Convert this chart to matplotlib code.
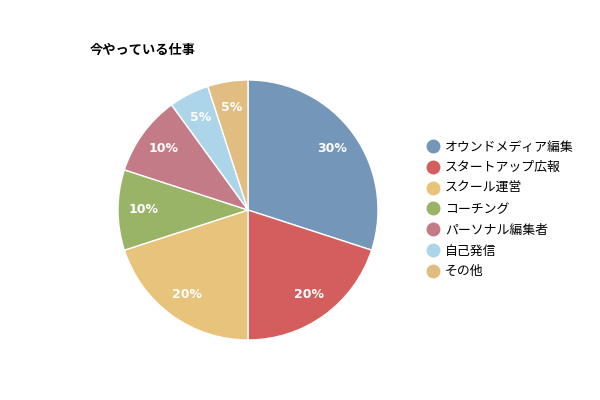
import matplotlib.pyplot as plt
from matplotlib.lines import Line2D

plt.rcParams['font.family'] = ['Noto Sans CJK JP', 'DejaVu Sans']

title = '今やっている仕事'
labels = ['オウンドメディア編集', 'スタートアップ広報', 'スクール運営', 'コーチング',
          'パーソナル編集者', '自己発信', 'その他']
values = [30, 20, 20, 10, 10, 5, 5]
colors = ['#7396b9', '#d45e5e', '#e7c37c', '#99b367', '#c47b88', '#acd5ea', '#e2bd82']

fig = plt.figure(figsize=(6, 4), dpi=100)
ax = fig.add_axes([118 / 600, 60 / 400, 260 / 600, 260 / 400])
wedges, texts, autotexts = ax.pie(
    values, colors=colors, startangle=90, counterclock=False,
    autopct='%d%%', pctdistance=0.8, radius=1,
    wedgeprops=dict(edgecolor='white', linewidth=1))
for t in autotexts:
    t.set_color('white')
    t.set_fontweight('bold')
    t.set_fontsize(9)
    t.set_family(['DejaVu Sans'])
ax.set_xlim(-1, 1)
ax.set_ylim(-1, 1)
ax.set_aspect('equal')

fig.text(90 / 600, 1 - 50 / 400, title, fontsize=9.5, fontweight='bold', va='center')

handles = [Line2D([0], [0], marker='o', linestyle='', markersize=9,
                  markerfacecolor=c, markeredgecolor=c) for c in colors]
fig.legend(handles, labels, loc='upper left', bbox_to_anchor=(420 / 600, 1 - 135.5 / 400),
           frameon=False, fontsize=9.3, handletextpad=0.35, labelspacing=0.6,
           handlelength=1.2, borderaxespad=0)

fig.savefig('out.png')
